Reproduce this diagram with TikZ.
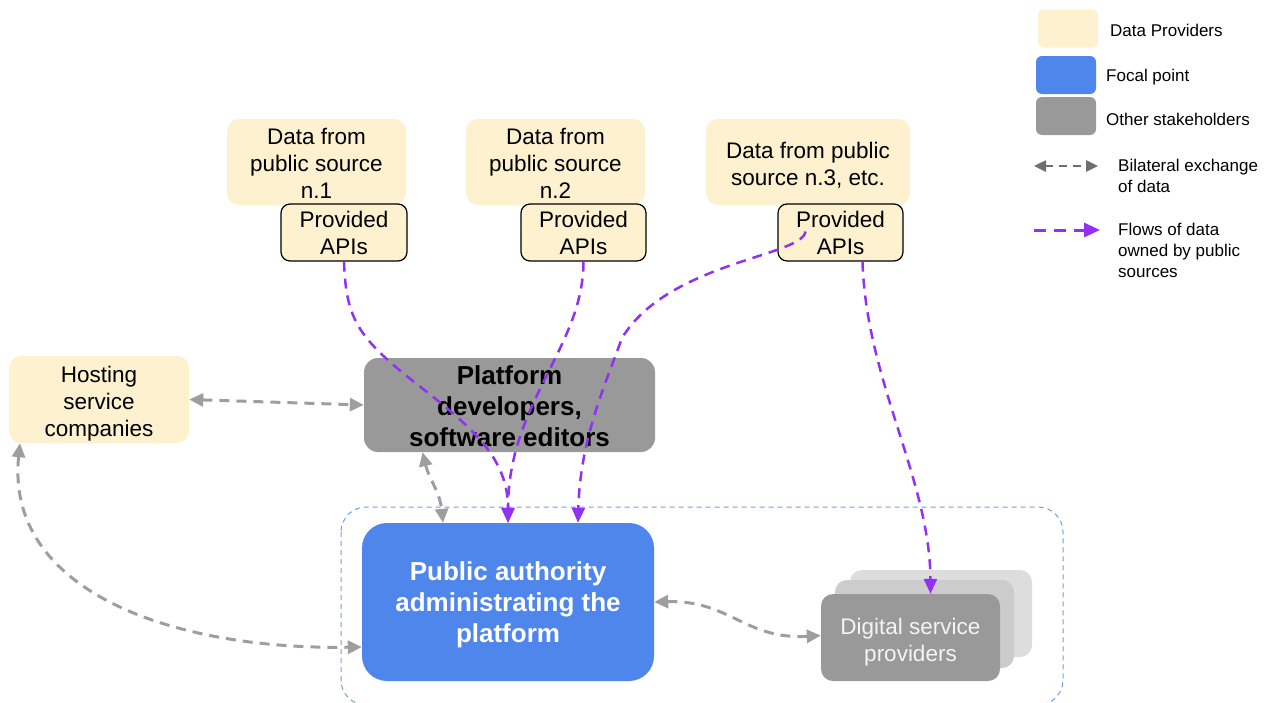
\documentclass[tikz,border=0pt]{standalone}
\usepackage{fontspec}
\setmainfont{Liberation Sans}
\usetikzlibrary{arrows.meta,calc}
\definecolor{cream}{HTML}{FDF1CF}
\definecolor{focal}{HTML}{4F86EC}
\definecolor{stake}{HTML}{999999}
\definecolor{stakemid}{HTML}{CCCCCC}
\definecolor{stakeback}{HTML}{DDDDDD}
\definecolor{flow}{HTML}{9131F4}
\definecolor{xchg}{HTML}{9E9E9E}
\definecolor{xchgkey}{HTML}{6E6E6E}
\definecolor{frame}{HTML}{6D9EEB}
\definecolor{dsptext}{HTML}{F4F4F4}
% invisible strut that lowers a node's text block
\newcommand{\toplift}[1]{\rule{0pt}{#1}}

\begin{document}
\begin{tikzpicture}[x=1pt,y=-1pt,
  box/.style={rounded corners=12pt, inner sep=0pt, align=center,
    font=\fontsize{22.5}{27}\selectfont},
  provider/.style={box, fill=cream},
  apibox/.style={box, fill=cream, draw=black, line width=1.2pt, rounded corners=9pt},
  stakebox/.style={box, fill=stake, rounded corners=14pt,
    font=\fontsize{26}{31}\selectfont\bfseries},
  focalbox/.style={box, fill=focal, rounded corners=25pt, text=white,
    font=\fontsize{26}{31}\selectfont\bfseries},
  dspbox/.style={box, rounded corners=12pt, minimum width=179pt, minimum height=87pt},
  keybox/.style={rounded corners=6pt, inner sep=0pt, minimum width=60pt, minimum height=38pt},
  keytext/.style={anchor=west, inner sep=0pt, align=left,
    font=\fontsize{17}{21}\selectfont},
  flowarrow/.style={draw=flow, line width=2.5pt, dash pattern=on 10pt off 7pt,
    -{Triangle[length=15pt,width=13pt]}},
  xchgarrow/.style={draw=xchg, line width=3pt, dash pattern=on 10pt off 7pt,
    {Triangle[length=14pt,width=13pt]}-{Triangle[length=14pt,width=13pt]}}
]
\useasboundingbox (0,0) rectangle (1274,702);

% container around the platform and its users (its lower edge runs off the page)
\draw[frame, line width=1pt, dash pattern=on 5pt off 4pt, rounded corners=25pt]
  (341,507) rectangle (1063,705);

% data sources and their APIs
\node[provider, minimum width=179pt, minimum height=86pt] (src1) at (316.5,162)
  {\toplift{18.4pt}Data from\\public source\\n.1};
\node[provider, minimum width=179pt, minimum height=86pt] (src2) at (555.5,162)
  {\toplift{18.4pt}Data from\\public source\\n.2};
\node[provider, minimum width=204pt, minimum height=86pt] (src3) at (808,162)
  {\toplift{22.4pt}Data from public\\source n.3, etc.};
\node[apibox, minimum width=126pt, minimum height=57pt] (api1) at (344,232.5)
  {Provided\\APIs};
\node[apibox, minimum width=125pt, minimum height=57pt] (api2) at (583.5,232.5)
  {Provided\\APIs};
\node[apibox, minimum width=125pt, minimum height=57pt] (api3) at (840.5,232.5)
  {Provided\\APIs};

% stakeholders
\node[provider, minimum width=180pt, minimum height=87pt] (host) at (99,399.5)
  {\toplift{24.4pt}Hosting\\service\\companies};
\node[stakebox, minimum width=291pt, minimum height=94pt] (plat) at (509.5,405)
  {\toplift{21pt}Platform\\developers,\\software editors};
\node[focalbox, minimum width=292pt, minimum height=158pt] (pa) at (508,602)
  {\toplift{25pt}Public authority\\administrating the\\platform};

% stacked digital service providers
\node[dspbox, fill=stakeback, minimum width=182pt] (dspback) at (941,613.5) {};
\node[dspbox, fill=stakemid, minimum height=88pt] (dspmid) at (924.5,624) {};
\node[dspbox, fill=stake, text=dsptext] (dsp) at (910.5,637.5)
  {\toplift{26.4pt}Digital service\\providers};

% flows of data owned by public sources
\draw[flowarrow] (api1.south) .. controls ($(api1.south)+(2,58)$) and (358,338) ..
  (418,385) .. controls (476,430) and (508,460) .. (pa.north);
\draw[flowarrow] (api2.south) .. controls +(0,85) and +(0,-120) .. (pa.north);
\draw[flowarrow] ($(api3.center)+(-35,-1)$) .. controls +(-3,25) and (668,262) ..
  (622,338) .. controls (605,385) and (580,440) .. ($(pa.north)+(70,0)$);
\draw[flowarrow] ($(api3.south)+(22,0)$) .. controls (866,380) and (930,480) ..
  ($(dsp.north)+(20,0)$);

% bilateral exchanges of data
\draw[xchgarrow] (host.east) -- (plat.west);
\draw[xchgarrow] ($(plat.south)+(-87,0)$) .. controls +(6,25) and +(-3,-30) ..
  ($(pa.north)+(-65,0)$);
\draw[xchgarrow] ($(host.south)+(-79,0)$) .. controls (5,590) and (170,650) ..
  ($(pa.west)+(0,45)$);
\draw[xchgarrow] (pa.east) .. controls (730,600) and (745,640) ..
  ($(dsp.west)+(0,-2)$);

% legend
\node[keybox, fill=cream] (keyprov) at (1068,28.5) {};
\node[keybox, fill=focal] (keyfocal) at (1066,75) {};
\node[keybox, fill=stake] (keystake) at (1066,116) {};
\node[keytext] (tprov) at (1110,30) {Data Providers};
\node[keytext] (tfocal) at (1106,77) {Focal point};
\node[keytext] (tstake) at (1106,119) {Other stakeholders};

\coordinate (xa) at (1034,166);
\coordinate (xb) at (1098,166);
\draw[draw=xchgkey, line width=2.5pt, dash pattern=on 8pt off 6pt,
  {Triangle[length=12pt,width=11pt]}-{Triangle[length=12pt,width=11pt]}] (xa) -- (xb);
\node[keytext] (txchg) at (1118,175.5) {Bilateral exchange\\of data};

\coordinate (fa) at (1034,230);
\coordinate (fb) at (1100,230);
\draw[draw=flow, line width=3pt, dash pattern=on 12pt off 8pt,
  -{Triangle[length=16pt,width=14pt]}] (fa) -- (fb);
\node[keytext] (tflow) at (1118,250) {Flows of data\\owned by public\\sources};
\end{tikzpicture}
\end{document}
